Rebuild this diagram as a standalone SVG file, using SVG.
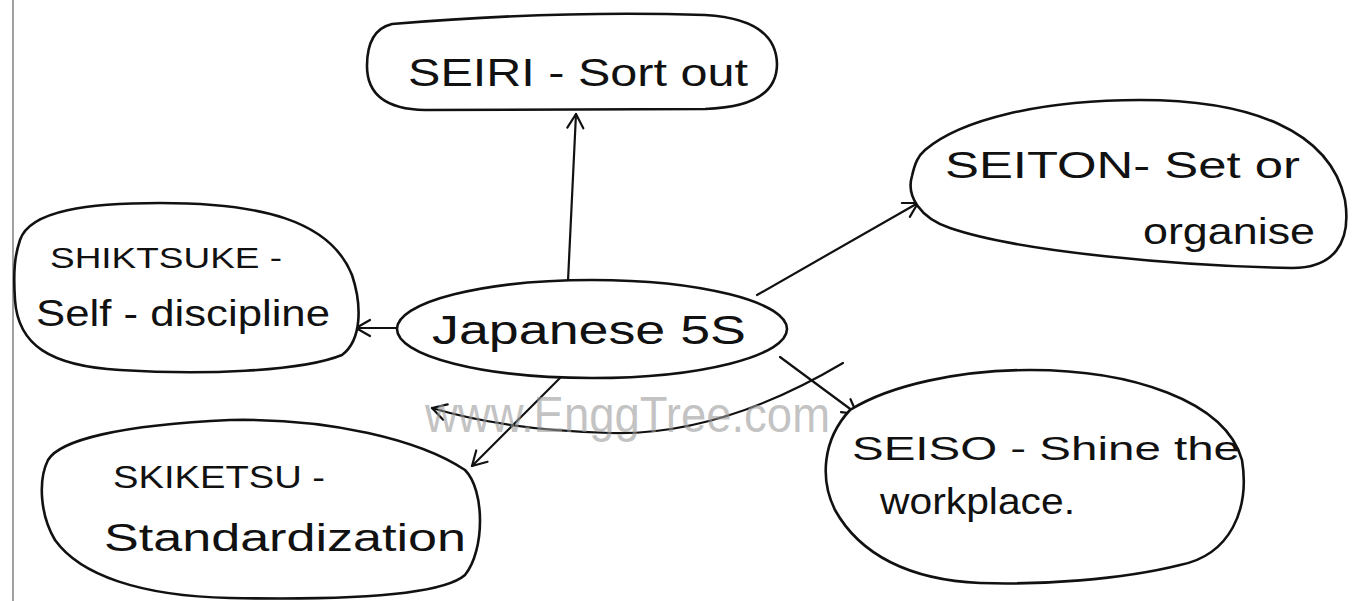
<svg xmlns="http://www.w3.org/2000/svg" width="1356" height="601" viewBox="0 0 1356 601">
  <style>
    .node { fill: #ffffff; stroke: #111111; stroke-width: 2.6; stroke-linejoin: round; }
    .label { font-family: "Liberation Sans", Arial, sans-serif; fill: #111111; }
    .edge { fill: none; stroke: #111111; stroke-width: 2.2; stroke-linecap: round; }
    .mark { font-family: "Liberation Sans", Arial, sans-serif; fill: #9a9a9a; fill-opacity: 0.6; }
  </style>
  <defs>
    <marker id="open-arrow" viewBox="-16 -10 20 20" markerWidth="20" markerHeight="20" refX="0" refY="0" orient="auto" markerUnits="userSpaceOnUse">
      <path d="M -14,-8 L 0,0 L -14,8" fill="none" stroke="#111111" stroke-width="2.2" stroke-linecap="round" stroke-linejoin="round"/>
    </marker>
  </defs>

  <rect x="0" y="0" width="1356" height="601" fill="#ffffff"/>
  <!-- notebook margin rule -->
  <line x1="13" y1="0" x2="13" y2="601" stroke="#8a8a8a" stroke-width="1.6"/>

  <g id="connectors">
    <path class="edge" d="M 568,281 L 576,114" marker-end="url(#open-arrow)"/>
    <path class="edge" d="M 757,295 L 918,203" marker-end="url(#open-arrow)"/>
    <path class="edge" d="M 400,328 L 356,328" marker-end="url(#open-arrow)"/>
    <path class="edge" d="M 560,378 L 472,466" marker-end="url(#open-arrow)"/>
    <path class="edge" d="M 780,357 L 857,414" marker-end="url(#open-arrow)"/>
    <path class="edge" d="M 843,363 Q 720,436 610,433 Q 505,430 432,408" marker-end="url(#open-arrow)"/>
  </g>

  <g id="node-seiri">
    <path class="node" d="M 392,24 Q 560,10 705,15 Q 776,19 777,64 Q 777,107 705,109 L 425,110 Q 367,109 367,66 Q 367,30 392,24 Z"/>
    <text class="label" x="408" y="86" font-size="38" textLength="340" lengthAdjust="spacingAndGlyphs">SEIRI - Sort out</text>
  </g>

  <g id="node-seiton">
    <path class="node" d="M 925,150 C 960,120 1040,100 1140,100 C 1250,100 1330,130 1345,200 C 1352,245 1332,268 1292,268 C 1180,266 1020,252 950,228 C 920,218 906,196 912,176 C 915,163 918,156 925,150 Z"/>
    <text class="label" x="945" y="178" font-size="36" textLength="355" lengthAdjust="spacingAndGlyphs">SEITON- Set  or</text>
    <text class="label" x="1143" y="244" font-size="36" textLength="172" lengthAdjust="spacingAndGlyphs">organise</text>
  </g>

  <g id="node-shiktsuke">
    <path class="node" d="M 20,240 C 30,210 90,203 160,203 C 260,203 330,220 352,275 C 362,305 362,340 342,355 C 300,372 200,375 120,370 C 50,366 18,345 15,300 C 13,270 15,255 20,240 Z"/>
    <text class="label" x="50" y="268" font-size="30" textLength="232" lengthAdjust="spacingAndGlyphs">SHIKTSUKE -</text>
    <text class="label" x="36" y="326" font-size="36" textLength="294" lengthAdjust="spacingAndGlyphs">Self - discipline</text>
  </g>

  <g id="node-japanese-5s">
    <ellipse class="node" cx="592" cy="329" rx="195" ry="49"/>
    <text class="label" x="432" y="344" font-size="40" textLength="314" lengthAdjust="spacingAndGlyphs">Japanese  5S</text>
  </g>

  <g id="node-skiketsu">
    <path class="node" d="M 48,460 C 60,440 120,425 230,420 C 330,418 420,440 465,470 C 485,490 485,550 465,575 C 440,597 330,600 230,598 C 140,596 80,575 55,540 C 40,515 38,480 48,460 Z"/>
    <text class="label" x="113" y="488" font-size="32" textLength="212" lengthAdjust="spacingAndGlyphs">SKIKETSU -</text>
    <text class="label" x="104" y="551" font-size="38" textLength="362" lengthAdjust="spacingAndGlyphs">Standardization</text>
  </g>

  <g id="node-seiso">
    <path class="node" d="M 850,410 C 890,385 960,370 1030,370 C 1130,370 1225,400 1242,460 C 1250,510 1230,555 1180,565 C 1120,580 1040,585 980,583 C 910,580 860,555 835,510 C 820,480 822,440 850,410 Z"/>
    <text class="label" x="852" y="460" font-size="34" textLength="388" lengthAdjust="spacingAndGlyphs">SEISO - Shine  the</text>
    <text class="label" x="880" y="514" font-size="36" textLength="195" lengthAdjust="spacingAndGlyphs">workplace.</text>
  </g>

  <text class="mark" x="425" y="432" font-size="50" textLength="405" lengthAdjust="spacingAndGlyphs">www.EnggTree.com</text>
</svg>
